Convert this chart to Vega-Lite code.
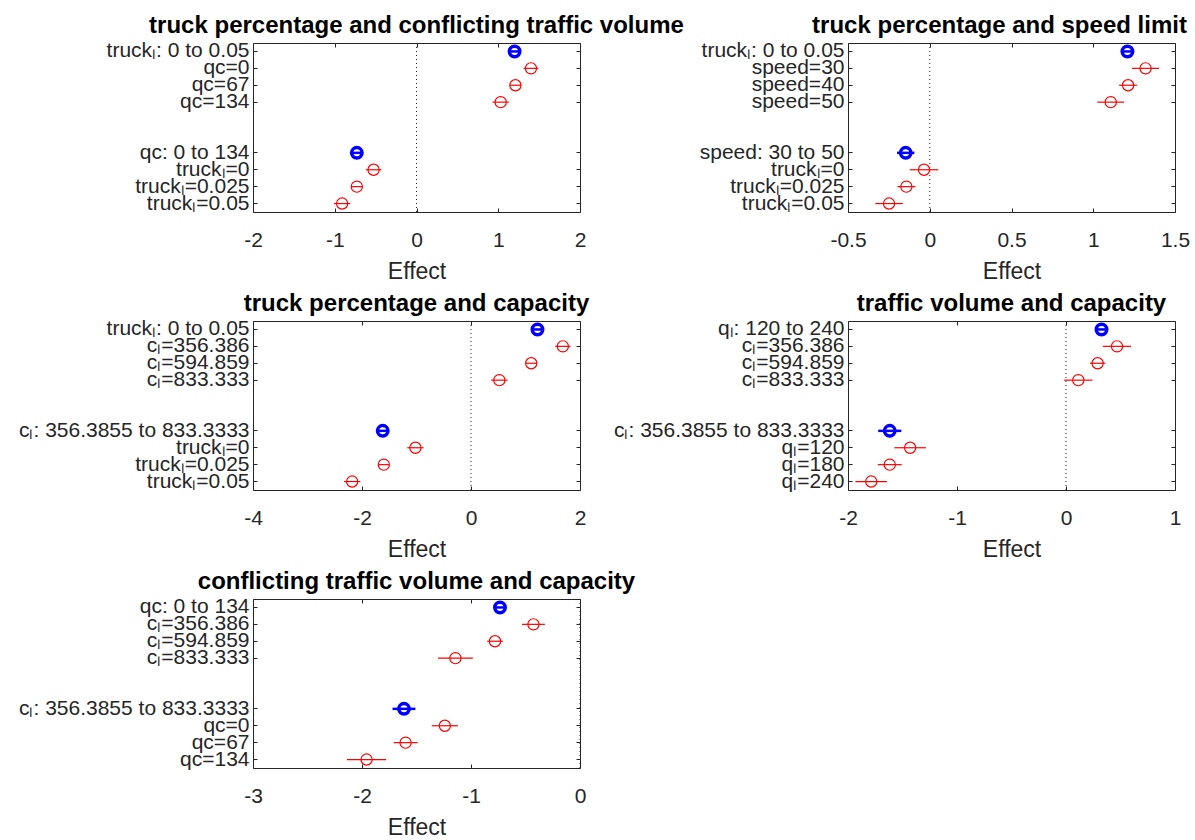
{
  "$schema": "https://vega.github.io/schema/vega-lite/v6.json",
  "background": "white",
  "padding": {"left": 17, "top": 13, "right": 0, "bottom": 0},
  "bounds": "flush",
  "columns": 2,
  "spacing": {"row": 109, "column": 268},
  "datasets": {
    "effects": [
      {"panel": 1, "label": "truckₗ: 0 to 0.05", "type": "main", "effect": 1.20, "lo": 1.14, "hi": 1.26},
      {"panel": 1, "label": "qc=0", "type": "cond", "effect": 1.40, "lo": 1.31, "hi": 1.49},
      {"panel": 1, "label": "qc=67", "type": "cond", "effect": 1.21, "lo": 1.14, "hi": 1.28},
      {"panel": 1, "label": "qc=134", "type": "cond", "effect": 1.03, "lo": 0.93, "hi": 1.13},
      {"panel": 1, "label": "qc: 0 to 134", "type": "main", "effect": -0.73, "lo": -0.79, "hi": -0.67},
      {"panel": 1, "label": "truckₗ=0", "type": "cond", "effect": -0.525, "lo": -0.62, "hi": -0.43},
      {"panel": 1, "label": "truckₗ=0.025", "type": "cond", "effect": -0.73, "lo": -0.80, "hi": -0.66},
      {"panel": 1, "label": "truckₗ=0.05", "type": "cond", "effect": -0.91, "lo": -1.01, "hi": -0.81},

      {"panel": 2, "label": "truckₗ: 0 to 0.05", "type": "main", "effect": 1.209, "lo": 1.17, "hi": 1.25},
      {"panel": 2, "label": "speed=30", "type": "cond", "effect": 1.32, "lo": 1.237, "hi": 1.403},
      {"panel": 2, "label": "speed=40", "type": "cond", "effect": 1.213, "lo": 1.158, "hi": 1.268},
      {"panel": 2, "label": "speed=50", "type": "cond", "effect": 1.107, "lo": 1.025, "hi": 1.189},
      {"panel": 2, "label": "speed: 30 to 50", "type": "main", "effect": -0.147, "lo": -0.20, "hi": -0.094},
      {"panel": 2, "label": "truckₗ=0", "type": "cond", "effect": -0.035, "lo": -0.122, "hi": 0.052},
      {"panel": 2, "label": "truckₗ=0.025", "type": "cond", "effect": -0.143, "lo": -0.198, "hi": -0.088},
      {"panel": 2, "label": "truckₗ=0.05", "type": "cond", "effect": -0.249, "lo": -0.333, "hi": -0.165},

      {"panel": 3, "label": "truckₗ: 0 to 0.05", "type": "main", "effect": 1.22, "lo": 1.12, "hi": 1.32},
      {"panel": 3, "label": "cₗ=356.386", "type": "cond", "effect": 1.685, "lo": 1.545, "hi": 1.825},
      {"panel": 3, "label": "cₗ=594.859", "type": "cond", "effect": 1.105, "lo": 1.005, "hi": 1.205},
      {"panel": 3, "label": "cₗ=833.333", "type": "cond", "effect": 0.52, "lo": 0.37, "hi": 0.67},
      {"panel": 3, "label": "cₗ: 356.3855 to 833.3333", "type": "main", "effect": -1.62, "lo": -1.72, "hi": -1.52},
      {"panel": 3, "label": "truckₗ=0", "type": "cond", "effect": -1.02, "lo": -1.17, "hi": -0.87},
      {"panel": 3, "label": "truckₗ=0.025", "type": "cond", "effect": -1.60, "lo": -1.70, "hi": -1.50},
      {"panel": 3, "label": "truckₗ=0.05", "type": "cond", "effect": -2.18, "lo": -2.33, "hi": -2.03},

      {"panel": 4, "label": "qₗ: 120 to 240", "type": "main", "effect": 0.326, "lo": 0.276, "hi": 0.376},
      {"panel": 4, "label": "cₗ=356.386", "type": "cond", "effect": 0.468, "lo": 0.338, "hi": 0.598},
      {"panel": 4, "label": "cₗ=594.859", "type": "cond", "effect": 0.29, "lo": 0.22, "hi": 0.36},
      {"panel": 4, "label": "cₗ=833.333", "type": "cond", "effect": 0.113, "lo": -0.017, "hi": 0.243},
      {"panel": 4, "label": "cₗ: 356.3855 to 833.3333", "type": "main", "effect": -1.617, "lo": -1.723, "hi": -1.511},
      {"panel": 4, "label": "qₗ=120", "type": "cond", "effect": -1.43, "lo": -1.575, "hi": -1.285},
      {"panel": 4, "label": "qₗ=180", "type": "cond", "effect": -1.617, "lo": -1.727, "hi": -1.507},
      {"panel": 4, "label": "qₗ=240", "type": "cond", "effect": -1.787, "lo": -1.932, "hi": -1.642},

      {"panel": 5, "label": "qc: 0 to 134", "type": "main", "effect": -0.734, "lo": -0.784, "hi": -0.684},
      {"panel": 5, "label": "cₗ=356.386", "type": "cond", "effect": -0.427, "lo": -0.532, "hi": -0.322},
      {"panel": 5, "label": "cₗ=594.859", "type": "cond", "effect": -0.78, "lo": -0.852, "hi": -0.708},
      {"panel": 5, "label": "cₗ=833.333", "type": "cond", "effect": -1.143, "lo": -1.303, "hi": -0.983},
      {"panel": 5, "label": "cₗ: 356.3855 to 833.3333", "type": "main", "effect": -1.615, "lo": -1.72, "hi": -1.51},
      {"panel": 5, "label": "qc=0", "type": "cond", "effect": -1.24, "lo": -1.36, "hi": -1.12},
      {"panel": 5, "label": "qc=67", "type": "cond", "effect": -1.60, "lo": -1.71, "hi": -1.49},
      {"panel": 5, "label": "qc=134", "type": "cond", "effect": -1.958, "lo": -2.138, "hi": -1.778}
    ]
  },
  "data": {"name": "effects"},
  "concat": [
    {
      "title": {"text": "truck percentage and conflicting traffic volume"},
      "width": 327, "height": 169,
      "transform": [{"filter": "datum.panel == 1"}],
      "layer": [
        {
          "transform": [{"aggregate": [{"op": "count", "as": "n"}]}],
          "mark": {"type": "rule", "strokeDash": [1, 3], "color": "#262626", "strokeWidth": 1},
          "encoding": {"x": {"datum": 0, "type": "quantitative", "scale": {"domain": [-2, 2], "nice": false}, "axis": null}}
        },
        {
          "mark": {"type": "rule"},
          "encoding": {
            "x": {"field": "lo", "type": "quantitative", "scale": {"domain": [-2, 2], "nice": false},
                  "axis": {"orient": "top", "values": [-2, -1, 0, 1, 2], "labels": false, "title": null}},
            "x2": {"field": "hi"},
            "y": {"field": "label", "type": "nominal",
                  "scale": {"domain": ["truckₗ: 0 to 0.05", "qc=0", "qc=67", "qc=134", " ", "  ", "qc: 0 to 134", "truckₗ=0", "truckₗ=0.025", "truckₗ=0.05"]},
                  "axis": {"orient": "right", "labels": false, "title": null, "tickOpacity": {"condition": {"test": "trim(datum.value) == ''", "value": 0}, "value": 1}}},
            "color": {"condition": {"test": "datum.type == 'main'", "value": "#0000ff"}, "value": "#ff0000"},
            "strokeWidth": {"condition": {"test": "datum.type == 'main'", "value": 2.5}, "value": 1.2}
          }
        },
        {
          "mark": {"type": "point", "shape": "circle", "filled": false, "opacity": 1},
          "encoding": {
            "x": {"field": "effect", "type": "quantitative", "scale": {"domain": [-2, 2], "nice": false},
                  "axis": {"orient": "bottom", "values": [-2, -1, 0, 1, 2], "format": "~g", "labelExpr": "replace(datum.label, '\u2212', '-')", "title": "Effect"}},
            "y": {"field": "label", "type": "nominal",
                  "scale": {"domain": ["truckₗ: 0 to 0.05", "qc=0", "qc=67", "qc=134", " ", "  ", "qc: 0 to 134", "truckₗ=0", "truckₗ=0.025", "truckₗ=0.05"]},
                  "axis": {"orient": "left", "title": null, "tickOpacity": {"condition": {"test": "trim(datum.value) == ''", "value": 0}, "value": 1}}},
            "color": {"condition": {"test": "datum.type == 'main'", "value": "#0000ff"}, "value": "#ff0000"},
            "size": {"condition": {"test": "datum.type == 'main'", "value": 110}, "value": 125},
            "strokeWidth": {"condition": {"test": "datum.type == 'main'", "value": 3.5}, "value": 1.2}
          }
        }
      ],
      "resolve": {"axis": {"x": "independent", "y": "independent"}}
    },
    {
      "title": {"text": "truck percentage and speed limit", "dx": -12},
      "width": 327, "height": 169,
      "transform": [{"filter": "datum.panel == 2"}],
      "layer": [
        {
          "transform": [{"aggregate": [{"op": "count", "as": "n"}]}],
          "mark": {"type": "rule", "strokeDash": [1, 3], "color": "#262626", "strokeWidth": 1},
          "encoding": {"x": {"datum": 0, "type": "quantitative", "scale": {"domain": [-0.5, 1.5], "nice": false}, "axis": null}}
        },
        {
          "mark": {"type": "rule"},
          "encoding": {
            "x": {"field": "lo", "type": "quantitative", "scale": {"domain": [-0.5, 1.5], "nice": false},
                  "axis": {"orient": "top", "values": [-0.5, 0, 0.5, 1, 1.5], "labels": false, "title": null}},
            "x2": {"field": "hi"},
            "y": {"field": "label", "type": "nominal",
                  "scale": {"domain": ["truckₗ: 0 to 0.05", "speed=30", "speed=40", "speed=50", " ", "  ", "speed: 30 to 50", "truckₗ=0", "truckₗ=0.025", "truckₗ=0.05"]},
                  "axis": {"orient": "right", "labels": false, "title": null, "tickOpacity": {"condition": {"test": "trim(datum.value) == ''", "value": 0}, "value": 1}}},
            "color": {"condition": {"test": "datum.type == 'main'", "value": "#0000ff"}, "value": "#ff0000"},
            "strokeWidth": {"condition": {"test": "datum.type == 'main'", "value": 2.5}, "value": 1.2}
          }
        },
        {
          "mark": {"type": "point", "shape": "circle", "filled": false, "opacity": 1},
          "encoding": {
            "x": {"field": "effect", "type": "quantitative", "scale": {"domain": [-0.5, 1.5], "nice": false},
                  "axis": {"orient": "bottom", "values": [-0.5, 0, 0.5, 1, 1.5], "format": "~g", "labelExpr": "replace(datum.label, '\u2212', '-')", "title": "Effect"}},
            "y": {"field": "label", "type": "nominal",
                  "scale": {"domain": ["truckₗ: 0 to 0.05", "speed=30", "speed=40", "speed=50", " ", "  ", "speed: 30 to 50", "truckₗ=0", "truckₗ=0.025", "truckₗ=0.05"]},
                  "axis": {"orient": "left", "title": null, "tickOpacity": {"condition": {"test": "trim(datum.value) == ''", "value": 0}, "value": 1}}},
            "color": {"condition": {"test": "datum.type == 'main'", "value": "#0000ff"}, "value": "#ff0000"},
            "size": {"condition": {"test": "datum.type == 'main'", "value": 110}, "value": 125},
            "strokeWidth": {"condition": {"test": "datum.type == 'main'", "value": 3.5}, "value": 1.2}
          }
        }
      ],
      "resolve": {"axis": {"x": "independent", "y": "independent"}}
    },
    {
      "title": {"text": "truck percentage and capacity"},
      "width": 327, "height": 169,
      "transform": [{"filter": "datum.panel == 3"}],
      "layer": [
        {
          "transform": [{"aggregate": [{"op": "count", "as": "n"}]}],
          "mark": {"type": "rule", "strokeDash": [1, 3], "color": "#262626", "strokeWidth": 1},
          "encoding": {"x": {"datum": 0, "type": "quantitative", "scale": {"domain": [-4, 2], "nice": false}, "axis": null}}
        },
        {
          "mark": {"type": "rule"},
          "encoding": {
            "x": {"field": "lo", "type": "quantitative", "scale": {"domain": [-4, 2], "nice": false},
                  "axis": {"orient": "top", "values": [-4, -2, 0, 2], "labels": false, "title": null}},
            "x2": {"field": "hi"},
            "y": {"field": "label", "type": "nominal",
                  "scale": {"domain": ["truckₗ: 0 to 0.05", "cₗ=356.386", "cₗ=594.859", "cₗ=833.333", " ", "  ", "cₗ: 356.3855 to 833.3333", "truckₗ=0", "truckₗ=0.025", "truckₗ=0.05"]},
                  "axis": {"orient": "right", "labels": false, "title": null, "tickOpacity": {"condition": {"test": "trim(datum.value) == ''", "value": 0}, "value": 1}}},
            "color": {"condition": {"test": "datum.type == 'main'", "value": "#0000ff"}, "value": "#ff0000"},
            "strokeWidth": {"condition": {"test": "datum.type == 'main'", "value": 2.5}, "value": 1.2}
          }
        },
        {
          "mark": {"type": "point", "shape": "circle", "filled": false, "opacity": 1},
          "encoding": {
            "x": {"field": "effect", "type": "quantitative", "scale": {"domain": [-4, 2], "nice": false},
                  "axis": {"orient": "bottom", "values": [-4, -2, 0, 2], "format": "~g", "labelExpr": "replace(datum.label, '\u2212', '-')", "title": "Effect"}},
            "y": {"field": "label", "type": "nominal",
                  "scale": {"domain": ["truckₗ: 0 to 0.05", "cₗ=356.386", "cₗ=594.859", "cₗ=833.333", " ", "  ", "cₗ: 356.3855 to 833.3333", "truckₗ=0", "truckₗ=0.025", "truckₗ=0.05"]},
                  "axis": {"orient": "left", "title": null, "tickOpacity": {"condition": {"test": "trim(datum.value) == ''", "value": 0}, "value": 1}}},
            "color": {"condition": {"test": "datum.type == 'main'", "value": "#0000ff"}, "value": "#ff0000"},
            "size": {"condition": {"test": "datum.type == 'main'", "value": 110}, "value": 125},
            "strokeWidth": {"condition": {"test": "datum.type == 'main'", "value": 3.5}, "value": 1.2}
          }
        }
      ],
      "resolve": {"axis": {"x": "independent", "y": "independent"}}
    },
    {
      "title": {"text": "traffic volume and capacity"},
      "width": 327, "height": 169,
      "transform": [{"filter": "datum.panel == 4"}],
      "layer": [
        {
          "transform": [{"aggregate": [{"op": "count", "as": "n"}]}],
          "mark": {"type": "rule", "strokeDash": [1, 3], "color": "#262626", "strokeWidth": 1},
          "encoding": {"x": {"datum": 0, "type": "quantitative", "scale": {"domain": [-2, 1], "nice": false}, "axis": null}}
        },
        {
          "mark": {"type": "rule"},
          "encoding": {
            "x": {"field": "lo", "type": "quantitative", "scale": {"domain": [-2, 1], "nice": false},
                  "axis": {"orient": "top", "values": [-2, -1, 0, 1], "labels": false, "title": null}},
            "x2": {"field": "hi"},
            "y": {"field": "label", "type": "nominal",
                  "scale": {"domain": ["qₗ: 120 to 240", "cₗ=356.386", "cₗ=594.859", "cₗ=833.333", " ", "  ", "cₗ: 356.3855 to 833.3333", "qₗ=120", "qₗ=180", "qₗ=240"]},
                  "axis": {"orient": "right", "labels": false, "title": null, "tickOpacity": {"condition": {"test": "trim(datum.value) == ''", "value": 0}, "value": 1}}},
            "color": {"condition": {"test": "datum.type == 'main'", "value": "#0000ff"}, "value": "#ff0000"},
            "strokeWidth": {"condition": {"test": "datum.type == 'main'", "value": 2.5}, "value": 1.2}
          }
        },
        {
          "mark": {"type": "point", "shape": "circle", "filled": false, "opacity": 1},
          "encoding": {
            "x": {"field": "effect", "type": "quantitative", "scale": {"domain": [-2, 1], "nice": false},
                  "axis": {"orient": "bottom", "values": [-2, -1, 0, 1], "format": "~g", "labelExpr": "replace(datum.label, '\u2212', '-')", "title": "Effect"}},
            "y": {"field": "label", "type": "nominal",
                  "scale": {"domain": ["qₗ: 120 to 240", "cₗ=356.386", "cₗ=594.859", "cₗ=833.333", " ", "  ", "cₗ: 356.3855 to 833.3333", "qₗ=120", "qₗ=180", "qₗ=240"]},
                  "axis": {"orient": "left", "title": null, "tickOpacity": {"condition": {"test": "trim(datum.value) == ''", "value": 0}, "value": 1}}},
            "color": {"condition": {"test": "datum.type == 'main'", "value": "#0000ff"}, "value": "#ff0000"},
            "size": {"condition": {"test": "datum.type == 'main'", "value": 110}, "value": 125},
            "strokeWidth": {"condition": {"test": "datum.type == 'main'", "value": 3.5}, "value": 1.2}
          }
        }
      ],
      "resolve": {"axis": {"x": "independent", "y": "independent"}}
    },
    {
      "title": {"text": "conflicting traffic volume and capacity"},
      "width": 327, "height": 169,
      "transform": [{"filter": "datum.panel == 5"}],
      "layer": [
        {
          "transform": [{"aggregate": [{"op": "count", "as": "n"}]}],
          "mark": {"type": "rule", "strokeDash": [1, 3], "color": "#262626", "strokeWidth": 1},
          "encoding": {"x": {"datum": 0, "type": "quantitative", "scale": {"domain": [-3, 0], "nice": false}, "axis": null}}
        },
        {
          "mark": {"type": "rule"},
          "encoding": {
            "x": {"field": "lo", "type": "quantitative", "scale": {"domain": [-3, 0], "nice": false},
                  "axis": {"orient": "top", "values": [-3, -2, -1, 0], "labels": false, "title": null}},
            "x2": {"field": "hi"},
            "y": {"field": "label", "type": "nominal",
                  "scale": {"domain": ["qc: 0 to 134", "cₗ=356.386", "cₗ=594.859", "cₗ=833.333", " ", "  ", "cₗ: 356.3855 to 833.3333", "qc=0", "qc=67", "qc=134"]},
                  "axis": {"orient": "right", "labels": false, "title": null, "tickOpacity": {"condition": {"test": "trim(datum.value) == ''", "value": 0}, "value": 1}}},
            "color": {"condition": {"test": "datum.type == 'main'", "value": "#0000ff"}, "value": "#ff0000"},
            "strokeWidth": {"condition": {"test": "datum.type == 'main'", "value": 2.5}, "value": 1.2}
          }
        },
        {
          "mark": {"type": "point", "shape": "circle", "filled": false, "opacity": 1},
          "encoding": {
            "x": {"field": "effect", "type": "quantitative", "scale": {"domain": [-3, 0], "nice": false},
                  "axis": {"orient": "bottom", "values": [-3, -2, -1, 0], "format": "~g", "labelExpr": "replace(datum.label, '\u2212', '-')", "title": "Effect"}},
            "y": {"field": "label", "type": "nominal",
                  "scale": {"domain": ["qc: 0 to 134", "cₗ=356.386", "cₗ=594.859", "cₗ=833.333", " ", "  ", "cₗ: 356.3855 to 833.3333", "qc=0", "qc=67", "qc=134"]},
                  "axis": {"orient": "left", "title": null, "tickOpacity": {"condition": {"test": "trim(datum.value) == ''", "value": 0}, "value": 1}}},
            "color": {"condition": {"test": "datum.type == 'main'", "value": "#0000ff"}, "value": "#ff0000"},
            "size": {"condition": {"test": "datum.type == 'main'", "value": 110}, "value": 125},
            "strokeWidth": {"condition": {"test": "datum.type == 'main'", "value": 3.5}, "value": 1.2}
          }
        }
      ],
      "resolve": {"axis": {"x": "independent", "y": "independent"}}
    }
  ],
  "config": {
    "font": "Liberation Sans",
    "view": {"stroke": "#262626", "strokeWidth": 1},
    "axis": {
      "grid": false, "domain": false, "tickSize": -4, "tickColor": "#262626", "tickWidth": 1,
      "labelFont": "Liberation Sans", "labelFontSize": 21, "labelColor": "#262626",
      "labelOverlap": false, "labelLimit": 0, "labelFlush": false,
      "titleFont": "Liberation Sans", "titleFontSize": 23, "titleFontWeight": "normal", "titleColor": "#262626"
    },
    "axisX": {"labelPadding": 21, "titlePadding": 10},
    "axisY": {"labelPadding": 8},
    "title": {"font": "Liberation Sans", "fontSize": 24, "fontWeight": "bold", "color": "#000000", "anchor": "middle", "offset": 1}
  }
}
